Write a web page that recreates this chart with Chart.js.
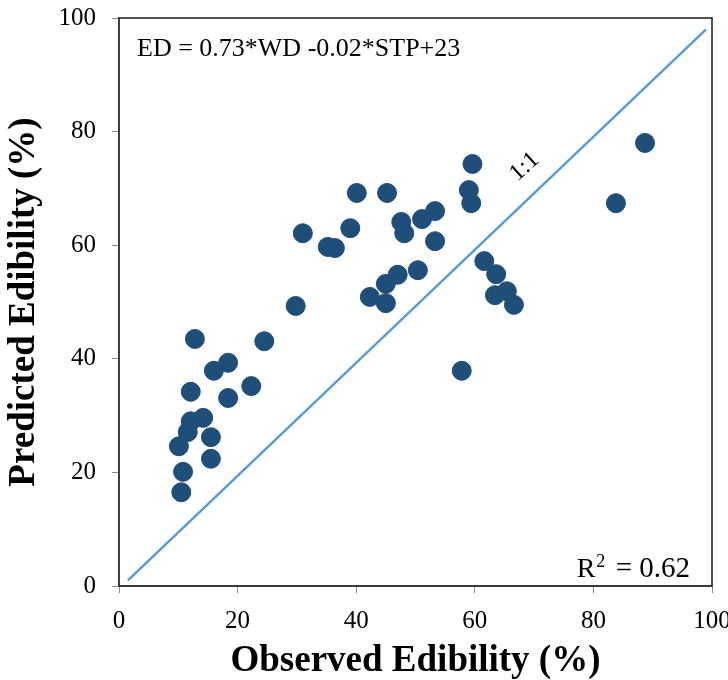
<!DOCTYPE html>
<html lang="en">
  <head>
    <meta charset="utf-8" />
    <title>Observed vs predicted edibility</title>
    <style>
      * {
        margin: 0;
        padding: 0;
      }
      body {
        background: white;
      }
      .chartBox {
        width: 728px;
        height: 680px;
      }
    </style>
  </head>
  <body>
    <div class="chartBox">
      <canvas id="myChart"></canvas>
    </div>

    <script src="https://cdn.jsdelivr.net/npm/chart.js"></script>

    <script>
      // observed / predicted edibility (%)
      const observed = [
        10.5, 10.8, 10.1, 11.6, 12.1, 12.1, 12.8, 14.2, 15.5, 15.5, 16.0,
        18.4, 18.4, 22.3, 24.5, 29.8, 31.0, 35.2, 36.4, 39.0, 40.1, 42.3,
        45.2, 45.0, 45.0, 47.0, 47.6, 48.1, 50.4, 51.1, 53.3, 53.3, 59.0,
        59.4, 59.6, 57.8, 61.6, 63.6, 63.4, 65.4, 66.6, 83.8, 88.7,
      ];
      const predicted = [
        16.5, 20.1, 24.6, 27.1, 29.0, 34.2, 43.5, 29.6, 26.2, 22.4, 37.9,
        39.3, 33.1, 35.2, 43.1, 49.3, 62.1, 59.7, 59.5, 63.0, 69.2, 50.9,
        69.2, 53.2, 49.8, 54.8, 64.1, 62.1, 55.6, 64.6, 66.0, 60.7, 69.7,
        67.4, 74.3, 37.9, 57.2, 54.9, 51.2, 51.9, 49.5, 67.4, 78.0,
      ];
      // 1:1 reference line end points
      const oneToOneX = [1.5, 99];
      const oneToOneY = [1.0, 98];
      const tickValues = [0, 20, 40, 60, 80, 100];

      const serif = "'Liberation Serif', 'DejaVu Serif', serif";

      const points = observed.map((v, i) => ({ x: v, y: predicted[i] }));
      const refLine = oneToOneX.map((v, i) => ({ x: v, y: oneToOneY[i] }));

      const annotations = {
        id: "annotations",
        afterDatasetsDraw(chart) {
          const {
            ctx,
            chartArea: { top, bottom, left, right },
            scales: { x, y },
          } = chart;
          ctx.save();
          // plot frame
          ctx.strokeStyle = "#1a1a1a";
          ctx.lineWidth = 1.5;
          ctx.strokeRect(left, top, right - left, bottom - top);

          ctx.fillStyle = "#000";
          ctx.textBaseline = "alphabetic";
          ctx.textAlign = "left";
          ctx.font = "26px " + serif;
          ctx.fillText("ED = 0.73*WD -0.02*STP+23", left + 18, top + 38);

          // R squared
          ctx.font = "29px " + serif;
          const tail = "= 0.62";
          const tw = ctx.measureText(tail).width;
          const base = bottom - 9;
          ctx.textAlign = "right";
          ctx.fillText(tail, right - 22, base);
          ctx.textAlign = "left";
          const rx = right - 22 - tw - 39;
          ctx.font = "28px " + serif;
          ctx.fillText("R", rx, base);
          const rw = ctx.measureText("R").width;
          ctx.font = "18px " + serif;
          ctx.fillText("2", rx + rw + 1, base - 10);

          // 1:1 label
          ctx.translate(x.getPixelForValue(68.4), y.getPixelForValue(73.8));
          ctx.rotate(-Math.PI * 0.235);
          ctx.font = "24px " + serif;
          ctx.textAlign = "center";
          ctx.textBaseline = "middle";
          ctx.fillText("1:1", 0, 0);
          ctx.restore();
        },
      };

      const config = {
        type: "scatter",
        data: {
          datasets: [
            {
              type: "line",
              data: refLine,
              borderColor: "#5b9bd5",
              borderWidth: 2.5,
              pointRadius: 0,
              fill: false,
            },
            {
              data: points,
              backgroundColor: "#1f4e79",
              borderColor: "#1f4e79",
              pointRadius: 9.5,
              pointHoverRadius: 9.5,
            },
          ],
        },
        options: {
          responsive: true,
          maintainAspectRatio: false,
          animation: false,
          layout: {
            padding: { top: 18, right: 16, left: 0, bottom: 0 },
          },
          plugins: {
            legend: { display: false },
            tooltip: { enabled: false },
          },
          scales: {
            x: {
              type: "linear",
              min: 0,
              max: 100,
              afterBuildTicks: (s) => {
                s.ticks = tickValues.map((v) => ({ value: v }));
              },
              afterFit: (s) => {
                s.height = 94;
                s.paddingLeft = 0;
                s.paddingRight = 0;
              },
              grid: {
                drawOnChartArea: false,
                drawTicks: true,
                tickLength: 7,
                color: "#8c8c8c",
              },
              border: { color: "#8c8c8c", width: 1.5 },
              ticks: {
                color: "#000",
                padding: 13,
                maxRotation: 0,
                font: { family: serif, size: 25 },
              },
              title: {
                display: true,
                text: "Observed Edibility (%)",
                color: "#000",
                padding: { top: 0, bottom: 0 },
                font: { family: serif, size: 37, weight: "bold", lineHeight: 1 },
              },
            },
            y: {
              type: "linear",
              min: 0,
              max: 100,
              afterBuildTicks: (s) => {
                s.ticks = tickValues.map((v) => ({ value: v }));
              },
              afterFit: (s) => {
                s.width = 119;
                s.paddingTop = 0;
                s.paddingBottom = 0;
              },
              grid: {
                drawOnChartArea: false,
                drawTicks: true,
                tickLength: 7,
                color: "#8c8c8c",
              },
              border: { color: "#8c8c8c", width: 1.5 },
              ticks: {
                color: "#000",
                padding: 16,
                font: { family: serif, size: 25 },
              },
              title: {
                display: true,
                text: "Predicted Edibility (%)",
                color: "#000",
                padding: { top: 6, bottom: 0 },
                font: { family: serif, size: 37, weight: "bold", lineHeight: 1 },
              },
            },
          },
        },
        plugins: [annotations],
      };

      const myChart = new Chart(document.getElementById("myChart"), config);
    </script>
  </body>
</html>
